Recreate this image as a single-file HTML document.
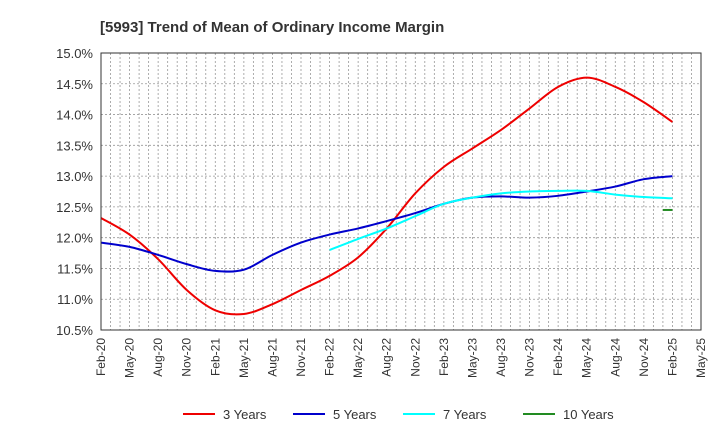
<!DOCTYPE html>
<html><head><meta charset="utf-8"><style>
body{margin:0;background:#fff;font-family:"Liberation Sans",sans-serif}
</style></head><body>
<svg width="720" height="440" xmlns="http://www.w3.org/2000/svg">
<text x="100" y="32" font-size="15" font-weight="bold" fill="#333">[5993]  Trend of Mean of Ordinary Income Margin</text>
<g id="grid"></g><g id="axes"></g><g id="series"></g>
<rect x="101" y="53" width="600" height="277" fill="none" stroke="#333" stroke-width="1"/>
<g id="legend"></g>
</svg>
<script>
const xLabels=["Feb-20","May-20","Aug-20","Nov-20","Feb-21","May-21","Aug-21","Nov-21","Feb-22","May-22","Aug-22","Nov-22","Feb-23","May-23","Aug-23","Nov-23","Feb-24","May-24","Aug-24","Nov-24","Feb-25","May-25"];
const yTicks=[10.5,11.0,11.5,12.0,12.5,13.0,13.5,14.0,14.5,15.0];
const s3=[12.32,12.05,11.65,11.15,10.82,10.76,10.92,11.15,11.38,11.68,12.15,12.72,13.15,13.45,13.75,14.1,14.45,14.6,14.45,14.2,13.88];
const s5=[11.92,11.85,11.72,11.57,11.46,11.48,11.72,11.92,12.05,12.15,12.27,12.4,12.55,12.65,12.67,12.65,12.68,12.75,12.83,12.95,13.0];
const s7=[11.8,11.98,12.15,12.35,12.55,12.65,12.72,12.75,12.76,12.76,12.7,12.66,12.64];
const s7Start=8;
const s10=[12.45,12.45];
const NS="http://www.w3.org/2000/svg";
const X=m=>101+m*600/63; // m in months
const Y=v=>330-(v-10.5)*277/4.5;
function mk(t,a,p){const e=document.createElementNS(NS,t);for(const k in a)e.setAttribute(k,a[k]);p.appendChild(e);return e;}
const grid=document.getElementById('grid'),axes=document.getElementById('axes'),ser=document.getElementById('series'),leg=document.getElementById('legend');
for(let m=1;m<63;m++){const l=mk('line',{x1:X(m),x2:X(m),y1:53,y2:330,stroke:'#999','stroke-dasharray':'2,2','stroke-width':0.8},grid);

}
yTicks.forEach(v=>{const l=mk('line',{x1:101,x2:701,y1:Y(v),y2:Y(v),stroke:'#999','stroke-dasharray':'2,2','stroke-width':0.8},grid);


const t=mk('text',{x:93,y:Y(v)+5,'text-anchor':'end','font-size':13,fill:'#333'},axes);t.textContent=v.toFixed(1)+'%';

});
xLabels.forEach((s,i)=>{const x=X(i*3);const t=mk('text',{x:0,y:0,'text-anchor':'end','font-size':12,fill:'#333',transform:`translate(${x+4},338) rotate(-90)`},axes);t.textContent=s;

});
function path(vals,start,step){const p=vals.map((v,i)=>[X((start+i)*step),Y(v)]);let d=`M${p[0][0]},${p[0][1]}`;
for(let i=0;i<p.length-1;i++){const p0=p[i-1]||p[i],p1=p[i],p2=p[i+1],p3=p[i+2]||p2;
d+=` C${p1[0]+(p2[0]-p0[0])/6},${p1[1]+(p2[1]-p0[1])/6} ${p2[0]-(p3[0]-p1[0])/6},${p2[1]-(p3[1]-p1[1])/6} ${p2[0]},${p2[1]}`;}return d;}
const specs=[[s3,0,3,'#e00','3 Years'],[s5,0,3,'#00c','5 Years'],[s7,s7Start,3,'#0ff','7 Years'],[s10,59,1,'#228b22','10 Years']];
specs.forEach(([v,st,step,c,n])=>{const e=mk('path',{d:path(v,st,step),fill:'none',stroke:c,'stroke-width':2},ser);

});
const lx=[183,293,403,523];
specs.forEach(([v,st,step,c,n],i)=>{const g=mk('g',{},leg);


mk('line',{x1:lx[i],x2:lx[i]+32,y1:414,y2:414,stroke:c,'stroke-width':2},g);
const t=mk('text',{x:lx[i]+40,y:419,'font-size':13,fill:'#333'},g);t.textContent=n;});
</script>
</body></html>
